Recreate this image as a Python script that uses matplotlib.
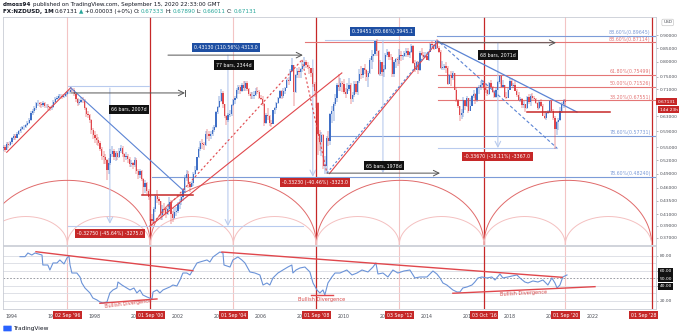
import numpy as np
import matplotlib
matplotlib.use("Agg")
import matplotlib.pyplot as plt
from matplotlib.ticker import NullLocator
from matplotlib.patches import FancyBboxPatch

# NZDUSD monthly bars, Aug 1993 .. Sep 2020 (open = previous close)
first_month = (1993, 8)
first_open = 0.548
closes = [
    0.550, 0.544, 0.558, 0.556, 0.562,
    0.572, 0.578, 0.574, 0.584, 0.590, 0.596, 0.600, 0.600, 0.606, 0.612, 0.620, 0.640,
    0.645, 0.652, 0.667, 0.668, 0.664, 0.662, 0.668, 0.658, 0.660, 0.656, 0.654, 0.656,
    0.672, 0.680, 0.684, 0.688, 0.690, 0.686, 0.690, 0.696, 0.700, 0.702, 0.708, 0.706,
    0.696, 0.680, 0.668, 0.672, 0.678, 0.676, 0.652, 0.636, 0.634, 0.620, 0.592, 0.580,
    0.572, 0.568, 0.560, 0.546, 0.530, 0.528, 0.520, 0.498, 0.514, 0.534, 0.542, 0.528,
    0.536, 0.528, 0.540, 0.548, 0.534, 0.528, 0.530, 0.522, 0.512, 0.514, 0.508, 0.520,
    0.496, 0.486, 0.496, 0.478, 0.462, 0.470, 0.454, 0.442, 0.402, 0.398, 0.420, 0.444,
    0.438, 0.434, 0.408, 0.420, 0.418, 0.410, 0.420, 0.432, 0.410, 0.404, 0.414, 0.416,
    0.428, 0.432, 0.442, 0.456, 0.480, 0.490, 0.468, 0.462, 0.470, 0.490, 0.498, 0.526,
    0.546, 0.560, 0.558, 0.556, 0.584, 0.582, 0.578, 0.584, 0.594, 0.602, 0.642, 0.656,
    0.674, 0.698, 0.664, 0.630, 0.620, 0.634, 0.636, 0.662, 0.676, 0.684, 0.708, 0.718,
    0.704, 0.724, 0.714, 0.730, 0.710, 0.696, 0.688, 0.690, 0.692, 0.704, 0.702, 0.684,
    0.680, 0.664, 0.612, 0.634, 0.630, 0.612, 0.610, 0.648, 0.652, 0.668, 0.684, 0.704,
    0.690, 0.704, 0.714, 0.740, 0.736, 0.770, 0.790, 0.700, 0.756, 0.768, 0.766, 0.776,
    0.784, 0.800, 0.790, 0.782, 0.778, 0.762, 0.726, 0.704, 0.668, 0.582, 0.562, 0.580,
    0.506, 0.506, 0.572, 0.566, 0.636, 0.644, 0.664, 0.684, 0.722, 0.718, 0.730, 0.726,
    0.700, 0.696, 0.710, 0.724, 0.680, 0.692, 0.726, 0.702, 0.734, 0.760, 0.756, 0.778,
    0.772, 0.750, 0.762, 0.806, 0.822, 0.828, 0.876, 0.838, 0.760, 0.800, 0.766, 0.776,
    0.826, 0.836, 0.818, 0.816, 0.758, 0.800, 0.810, 0.806, 0.826, 0.822, 0.822, 0.830,
    0.838, 0.826, 0.834, 0.858, 0.796, 0.772, 0.800, 0.772, 0.830, 0.826, 0.816, 0.822,
    0.806, 0.836, 0.866, 0.860, 0.848, 0.876, 0.850, 0.836, 0.780, 0.780, 0.786, 0.780,
    0.726, 0.754, 0.746, 0.762, 0.708, 0.676, 0.660, 0.634, 0.640, 0.676, 0.658, 0.684,
    0.646, 0.660, 0.690, 0.694, 0.676, 0.714, 0.718, 0.724, 0.728, 0.714, 0.708, 0.694,
    0.728, 0.718, 0.700, 0.686, 0.708, 0.732, 0.752, 0.718, 0.722, 0.686, 0.684, 0.708,
    0.736, 0.720, 0.724, 0.704, 0.692, 0.678, 0.680, 0.662, 0.664, 0.652, 0.686, 0.670,
    0.690, 0.682, 0.680, 0.668, 0.652, 0.672, 0.658, 0.630, 0.626, 0.640, 0.642, 0.674,
    0.646, 0.624, 0.596, 0.614, 0.620, 0.644, 0.664, 0.6733, 0.67131,
]
highs = [
    0.556, 0.556, 0.562, 0.562, 0.566,
    0.576, 0.582, 0.584, 0.588, 0.594, 0.600, 0.605, 0.606, 0.610, 0.616, 0.624, 0.645,
    0.650, 0.658, 0.672, 0.676, 0.672, 0.670, 0.674, 0.670, 0.666, 0.664, 0.660, 0.662,
    0.678, 0.686, 0.690, 0.694, 0.696, 0.694, 0.694, 0.700, 0.704, 0.708, 0.716, 0.714,
    0.712, 0.698, 0.684, 0.680, 0.686, 0.686, 0.680, 0.656, 0.644, 0.636, 0.622, 0.598,
    0.590, 0.582, 0.576, 0.566, 0.550, 0.540, 0.534, 0.522, 0.524, 0.546, 0.552, 0.546,
    0.542, 0.540, 0.548, 0.556, 0.552, 0.536, 0.538, 0.534, 0.526, 0.520, 0.516, 0.526,
    0.524, 0.500, 0.500, 0.498, 0.480, 0.476, 0.472, 0.458, 0.446, 0.410, 0.424, 0.448,
    0.456, 0.442, 0.434, 0.426, 0.430, 0.424, 0.428, 0.442, 0.436, 0.416, 0.422, 0.424,
    0.432, 0.438, 0.448, 0.460, 0.486, 0.498, 0.496, 0.470, 0.474, 0.494, 0.506, 0.528,
    0.550, 0.566, 0.570, 0.564, 0.590, 0.596, 0.590, 0.590, 0.600, 0.606, 0.646, 0.660,
    0.688, 0.710, 0.704, 0.664, 0.634, 0.640, 0.648, 0.666, 0.680, 0.690, 0.714, 0.724,
    0.722, 0.728, 0.736, 0.736, 0.734, 0.712, 0.700, 0.700, 0.704, 0.712, 0.718, 0.706,
    0.692, 0.688, 0.668, 0.640, 0.652, 0.634, 0.620, 0.648, 0.656, 0.670, 0.686, 0.708,
    0.706, 0.712, 0.716, 0.746, 0.750, 0.774, 0.814, 0.790, 0.760, 0.778, 0.782, 0.780,
    0.800, 0.818, 0.808, 0.800, 0.790, 0.780, 0.778, 0.732, 0.706, 0.672, 0.592, 0.588,
    0.584, 0.530, 0.578, 0.590, 0.640, 0.660, 0.670, 0.696, 0.728, 0.758, 0.744, 0.736,
    0.742, 0.712, 0.728, 0.744, 0.728, 0.702, 0.736, 0.734, 0.736, 0.776, 0.786, 0.780,
    0.792, 0.776, 0.768, 0.812, 0.842, 0.828, 0.878, 0.884, 0.842, 0.808, 0.800, 0.790,
    0.830, 0.848, 0.840, 0.828, 0.816, 0.808, 0.814, 0.816, 0.846, 0.838, 0.826, 0.838,
    0.852, 0.850, 0.840, 0.866, 0.860, 0.808, 0.804, 0.804, 0.838, 0.850, 0.836, 0.834,
    0.828, 0.840, 0.868, 0.876, 0.866, 0.878, 0.884, 0.858, 0.842, 0.802, 0.794, 0.798,
    0.786, 0.760, 0.768, 0.770, 0.762, 0.712, 0.680, 0.660, 0.650, 0.686, 0.676, 0.690,
    0.684, 0.682, 0.692, 0.706, 0.698, 0.716, 0.722, 0.736, 0.736, 0.738, 0.728, 0.710,
    0.732, 0.738, 0.720, 0.706, 0.712, 0.734, 0.755, 0.752, 0.740, 0.724, 0.700, 0.712,
    0.744, 0.744, 0.730, 0.740, 0.710, 0.700, 0.685, 0.683, 0.673, 0.664, 0.690, 0.694,
    0.694, 0.698, 0.690, 0.684, 0.670, 0.676, 0.680, 0.664, 0.646, 0.646, 0.648, 0.676,
    0.676, 0.650, 0.631, 0.616, 0.624, 0.656, 0.672, 0.680, 0.6789,
]
lows = [
    0.540, 0.538, 0.543, 0.549, 0.552,
    0.558, 0.568, 0.568, 0.572, 0.580, 0.586, 0.592, 0.594, 0.598, 0.603, 0.608, 0.618,
    0.634, 0.640, 0.648, 0.660, 0.656, 0.654, 0.656, 0.652, 0.652, 0.648, 0.646, 0.648,
    0.652, 0.668, 0.676, 0.680, 0.682, 0.680, 0.682, 0.686, 0.692, 0.696, 0.700, 0.700,
    0.688, 0.672, 0.660, 0.662, 0.668, 0.668, 0.648, 0.628, 0.626, 0.612, 0.584, 0.570,
    0.560, 0.556, 0.554, 0.540, 0.520, 0.510, 0.512, 0.476, 0.490, 0.508, 0.526, 0.520,
    0.518, 0.520, 0.524, 0.536, 0.526, 0.516, 0.520, 0.514, 0.504, 0.504, 0.500, 0.504,
    0.490, 0.478, 0.480, 0.474, 0.446, 0.450, 0.448, 0.436, 0.398, 0.390, 0.394, 0.414,
    0.430, 0.426, 0.400, 0.400, 0.408, 0.404, 0.408, 0.416, 0.392, 0.396, 0.402, 0.406,
    0.412, 0.420, 0.426, 0.434, 0.450, 0.474, 0.460, 0.452, 0.462, 0.464, 0.486, 0.496,
    0.524, 0.540, 0.546, 0.544, 0.554, 0.570, 0.566, 0.570, 0.578, 0.588, 0.598, 0.636,
    0.654, 0.670, 0.654, 0.626, 0.606, 0.614, 0.628, 0.630, 0.658, 0.666, 0.680, 0.696,
    0.696, 0.700, 0.704, 0.704, 0.704, 0.690, 0.680, 0.680, 0.680, 0.688, 0.694, 0.680,
    0.676, 0.658, 0.604, 0.608, 0.620, 0.604, 0.600, 0.608, 0.636, 0.648, 0.664, 0.680,
    0.680, 0.682, 0.696, 0.712, 0.722, 0.736, 0.766, 0.660, 0.698, 0.744, 0.746, 0.746,
    0.766, 0.778, 0.778, 0.774, 0.760, 0.750, 0.718, 0.686, 0.652, 0.532, 0.541, 0.530,
    0.500, 0.490, 0.494, 0.554, 0.556, 0.612, 0.618, 0.660, 0.670, 0.704, 0.704, 0.700,
    0.694, 0.682, 0.696, 0.704, 0.666, 0.670, 0.686, 0.696, 0.692, 0.728, 0.742, 0.744,
    0.758, 0.734, 0.718, 0.760, 0.774, 0.798, 0.822, 0.822, 0.756, 0.752, 0.752, 0.750,
    0.772, 0.818, 0.806, 0.806, 0.750, 0.750, 0.778, 0.786, 0.794, 0.804, 0.806, 0.816,
    0.818, 0.818, 0.814, 0.832, 0.794, 0.764, 0.774, 0.760, 0.770, 0.820, 0.812, 0.812,
    0.806, 0.804, 0.834, 0.852, 0.844, 0.846, 0.846, 0.832, 0.776, 0.772, 0.772, 0.762,
    0.722, 0.728, 0.720, 0.740, 0.706, 0.672, 0.654, 0.618, 0.622, 0.628, 0.647, 0.656,
    0.640, 0.646, 0.660, 0.684, 0.664, 0.672, 0.696, 0.708, 0.718, 0.708, 0.699, 0.688,
    0.692, 0.712, 0.698, 0.682, 0.682, 0.708, 0.726, 0.716, 0.718, 0.684, 0.680, 0.684,
    0.706, 0.720, 0.712, 0.704, 0.686, 0.674, 0.672, 0.654, 0.653, 0.642, 0.650, 0.664,
    0.660, 0.676, 0.676, 0.666, 0.648, 0.650, 0.656, 0.630, 0.623, 0.620, 0.636, 0.640,
    0.646, 0.620, 0.547, 0.580, 0.594, 0.616, 0.638, 0.654, 0.6601,
]

# monthly RSI line (time in years, value)
rsi_t = [1994.39, 1994.63, 1994.77, 1994.96, 1995.11, 1995.45, 1995.49, 1995.73, 1995.83, 1995.98,
         1996.17, 1996.31, 1996.51, 1996.65, 1996.75, 1996.80, 1996.89, 1997.13, 1997.28, 1997.37,
         1997.52, 1997.76, 1997.90, 1998.10, 1998.24, 1998.39, 1998.58, 1998.72, 1998.87, 1999.06,
         1999.11, 1999.30, 1999.54, 1999.69, 1999.88, 2000.02, 2000.17, 2000.31, 2000.51, 2000.75,
         2000.80, 2000.99, 2001.13, 2001.28, 2001.61, 2001.76, 2001.95, 2002.10, 2002.24, 2002.43,
         2002.58, 2002.72, 2002.92, 2003.06, 2003.40, 2003.54, 2003.69, 2004.02, 2004.17, 2004.22,
         2004.51, 2004.65, 2004.89, 2005.08, 2005.23, 2005.47, 2005.71, 2005.95, 2006.10, 2006.29,
         2006.43, 2006.58, 2006.82, 2007.06, 2007.30, 2007.49, 2007.54, 2007.69, 2007.88, 2008.12,
         2008.36, 2008.51, 2008.70, 2008.84, 2008.99, 2009.08, 2009.23, 2009.42, 2009.57, 2009.81,
         2010.14, 2010.39, 2010.63, 2010.87, 2011.16, 2011.40, 2011.54, 2011.64, 2011.88, 2012.12,
         2012.36, 2012.60, 2012.89, 2013.18, 2013.42, 2013.66, 2014.00, 2014.29, 2014.48, 2014.63,
         2014.77, 2014.96, 2015.25, 2015.45, 2015.59, 2015.73, 2015.93, 2016.17, 2016.31, 2016.46,
         2016.65, 2016.89, 2017.13, 2017.28, 2017.52, 2017.66, 2017.90, 2018.10, 2018.34, 2018.48,
         2018.72, 2018.87, 2019.11, 2019.35, 2019.59, 2019.83, 2020.02, 2020.17, 2020.27, 2020.41,
         2020.55, 2020.75]
rsi_vals = [78.7, 78.7, 83.6, 80.9, 83.6, 80.9, 67.6, 67.6, 60.9, 70.3,
            70.3, 74.3, 69.0, 76.9, 79.6, 67.6, 56.9, 56.9, 51.6, 43.6,
            36.9, 30.3, 23.6, 20.9, 18.3, 16.9, 18.3, 30.3, 34.3, 36.9,
            44.9, 40.9, 36.9, 34.3, 36.9, 30.3, 34.3, 27.6, 24.9, 22.3,
            31.6, 34.3, 30.3, 34.3, 38.3, 40.9, 39.6, 47.6, 56.9, 56.9,
            54.3, 60.9, 70.3, 71.6, 74.3, 71.6, 78.3, 84.9, 83.6, 67.6,
            64.9, 74.3, 78.3, 74.3, 70.3, 58.3, 56.9, 54.3, 40.9, 43.6,
            40.9, 50.3, 56.9, 60.9, 64.9, 67.6, 56.9, 60.9, 63.6, 64.9,
            58.3, 43.6, 34.3, 30.3, 34.3, 27.6, 43.6, 51.6, 56.9, 56.9,
            60.9, 54.3, 56.9, 60.9, 58.3, 64.9, 70.3, 55.6, 56.9, 51.6,
            60.9, 56.9, 59.6, 60.9, 50.3, 51.6, 51.6, 59.6, 55.6, 50.3,
            43.6, 40.9, 34.3, 31.6, 31.6, 36.9, 38.3, 40.9, 44.9, 50.3,
            51.6, 50.3, 51.6, 47.6, 55.6, 50.3, 51.6, 52.9, 54.3, 50.3,
            44.9, 43.6, 46.3, 44.9, 47.6, 40.9, 50.3, 43.6, 36.9, 40.9,
            51.6, 54.3]

price_ticks = [0.90, 0.85, 0.80, 0.75, 0.71, 0.63, 0.59, 0.55, 0.52, 0.49, 0.46, 0.435, 0.41, 0.39, 0.37]
rsi_ticks = [20, 40, 50, 60, 80]
year_ticks = list(range(1994, 2023, 2))

# 8-year cycle lows and the 4-year half cycles
cycle_lows = [2000.67, 2008.67, 2016.75, 2024.83]
half_cycles = [1996.67, 2004.67, 2012.67, 2020.67]
cycle_tags = ["02 Sep '96", "01 Sep '00", "01 Sep '04", "01 Sep '08",
              "03 Sep '12", "03 Oct '16", "01 Sep '20", "01 Sep '28"]
cycle_tag_x = [1996.67, 2000.67, 2004.67, 2008.67, 2012.67, 2016.75, 2020.67, 2024.43]

# fibonacci levels: (label, level, start year, colour key)
fib_names = ["88.60%", "88.60%", "61.80%", "50.00%", "38.20%", "78.60%", "78.60%"]
fib_levels = [0.89645, 0.87114, 0.75499, 0.71526, 0.67551, 0.57731, 0.48240]
fib_start = [2014.48, 2008.12, 2014.53, 2014.53, 2014.53, 2009.33, 2000.75]
fib_kind = ["b", "r", "r", "r", "r", "b", "b"]

BLUE = "#3f6fc6"
RED = "#e0474c"
DKRED = "#c62828"
PINK = "#f3c4c4"
LBLUE = "#b9cbee"
FIBB = "#7d9cd8"
FIBR = "#e47676"
GRID = "#d9dce3"
TXT = "#4a4d55"

W, H = 680, 334
fig = plt.figure(figsize=(W / 100, H / 100), dpi=100)
fig.patch.set_facecolor("white")


def rect(l, t, r, b):
    return [l / W, 1 - b / H, (r - l) / W, (b - t) / H]


ax = fig.add_axes(rect(3, 17, 656, 244.5))
axr = fig.add_axes(rect(3, 245.5, 656, 309), sharex=ax)

for a in (ax, axr):
    for s in a.spines.values():
        s.set_color("#c9ccd4")
        s.set_linewidth(0.6)

ax.set_yscale("log")
ax.set_xlim(1993.57, 2025.04)
ax.set_ylim(0.359, 0.974)
axr.set_ylim(8.9, 93.6)

# ---- candles
n = len(closes)
t = first_month[0] + (first_month[1] - 1) / 12 + np.arange(n) / 12
c = np.array(closes)
o = np.r_[first_open, c[:-1]]
hi = np.maximum(np.array(highs), np.maximum(o, c))
lo = np.minimum(np.array(lows), np.minimum(o, c))
col = np.where(c >= o, BLUE, RED)
ax.vlines(t, lo, hi, colors=col, lw=1.3, alpha=0.3, zorder=3)
ax.bar(t, np.maximum(np.abs(c - o), 0.002), bottom=np.minimum(o, c),
       width=0.06, color=col, lw=0, zorder=4)

# ---- cycle verticals and arcs
for a in (ax, axr):
    for x in half_cycles:
        a.axvline(x, color=PINK, lw=0.8, zorder=1)
    for x in cycle_lows:
        a.axvline(x, color=DKRED, lw=0.9, zorder=2)

tr = ax.get_xaxis_transform()
th = np.linspace(0, np.pi, 200)
big = [1992.67] + cycle_lows
for a0, a1 in zip(big[:-1], big[1:]):
    ax.plot((a0 + a1) / 2 + (a1 - a0) / 2 * np.cos(th), 0.282 * np.sin(th),
            transform=tr, color="#e06a6a", lw=0.7, zorder=2)
small = sorted([1992.67] + cycle_lows + half_cycles)
for a0, a1 in zip(small[:-1], small[1:]):
    ax.plot((a0 + a1) / 2 + (a1 - a0) / 2 * np.cos(th), 0.123 * np.sin(th),
            transform=tr, color="#f4c0c0", lw=0.7, zorder=2)

# ---- fib levels
for name, lev, x0, k in zip(fib_names, fib_levels, fib_start, fib_kind):
    cc = FIBB if k == "b" else FIBR
    ax.plot([x0, 2025.04], [lev, lev], color=cc, lw=0.8, zorder=2)
    ax.text(2024.78, lev * 1.004, f"{name}({lev:.5f})", color=cc, fontsize=3.4,
            ha="right", va="bottom", zorder=5)

# ---- trend lines
ax.plot([1993.75, 1996.83], [0.538, 0.714], color=RED, lw=0.8, zorder=5)
ax.plot([1996.83, 2002.34], [0.714, 0.452], color="#5b84d4", lw=0.8, zorder=5)
ax.plot([2000.65, 2009.9], [0.389, 0.762], color=RED, lw=0.8, zorder=5)
ax.plot([2000.65, 2007.98], [0.389, 0.807], color=RED, lw=0.8, ls=(0, (2, 2)), zorder=5)
ax.plot([2007.98, 2009.18], [0.807, 0.491], color=RED, lw=0.8, ls=(0, (2, 2)), zorder=5)
ax.plot([2009.3, 2014.53], [0.490, 0.876], color=RED, lw=0.8, zorder=5)
ax.plot([2009.18, 2014.45], [0.491, 0.872], color="#5b84d4", lw=0.8, ls=(0, (2, 2)), zorder=5)
ax.plot([2014.53, 2021.23], [0.876, 0.642], color="#5b84d4", lw=0.9, zorder=5)
ax.plot([2014.63, 2020.27], [0.870, 0.548], color="#5b84d4", lw=0.8, ls=(0, (3, 2)), zorder=5)
ax.plot([2018.82, 2022.82], [0.642, 0.642], color=DKRED, lw=1.1, zorder=5)
ax.plot([2000.27, 2002.72], [0.447, 0.447], color=DKRED, lw=1.1, zorder=5)

# ---- measuring tools (light price ranges)
ax.plot([1996.70, 2000.60], [0.720, 0.720], color=LBLUE, lw=0.8, zorder=2)
ax.plot([1996.70, 2008.02], [0.389, 0.389], color=LBLUE, lw=0.8, zorder=2)
ax.plot([2009.08, 2014.48], [0.880, 0.880], color=LBLUE, lw=0.8, zorder=2)
ax.plot([2014.53, 2020.27], [0.548, 0.548], color=LBLUE, lw=0.8, zorder=2)
for xv, ya, yb in [(1998.72, 0.713, 0.393), (2004.41, 0.824, 0.389), (2011.88, 0.880, 0.491),
                   (2008.50, 0.807, 0.483), (2017.42, 0.870, 0.548)]:
    ax.annotate("", xy=(xv, yb), xytext=(xv, ya), zorder=2,
                arrowprops=dict(arrowstyle="->", color=LBLUE, lw=0.8, shrinkA=0, shrinkB=0))

# date ranges
for x0, x1, yv in [(1996.83, 2002.34, 0.698), (2001.52, 2008.02, 0.824),
                   (2009.18, 2014.63, 0.491), (2014.53, 2020.22, 0.870)]:
    ax.annotate("", xy=(x1, yv), xytext=(x0, yv), zorder=5,
                arrowprops=dict(arrowstyle="->", color="#555", lw=0.7, shrinkA=0, shrinkB=0))
ax.plot([2002.34, 2002.34], [0.688, 0.708], color="#555", lw=0.7, zorder=5)


def tag(x, y, s, fc):
    ax.text(x, y, s, fontsize=3.4, color="white", ha="center", va="center", zorder=7,
            bbox=dict(boxstyle="square,pad=0.45", fc=fc, ec="none"))


tag(1999.64, 0.650, "66 bars, 2007d", "#111111")
tag(2004.70, 0.789, "77 bars, 2344d", "#111111")
tag(2011.91, 0.507, "65 bars, 1978d", "#111111")
tag(2017.42, 0.824, "68 bars, 2071d", "#111111")
tag(1998.72, 0.377, "-0.32750 (-45.64%) -3275.0", DKRED)
tag(2008.60, 0.471, "-0.33230 (-40.46%) -3323.0", DKRED)
tag(2017.40, 0.528, "-0.33670 (-38.11%) -3367.0", DKRED)
tag(2004.31, 0.852, "0.43130 (110.56%) 4313.0", "#1e4fa3")
tag(2011.86, 0.914, "0.39451 (80.66%) 3945.1", "#1e4fa3")

# ---- price axis
ax.yaxis.tick_right()
ax.yaxis.set_minor_locator(NullLocator())
ax.set_yticks(price_ticks)
ax.set_yticklabels([f"{v:.5f}" for v in price_ticks])
ax.tick_params(axis="y", length=1.5, width=0.5, color="#999", labelcolor=TXT, labelsize=3.2, pad=1)
ax.tick_params(axis="x", bottom=False, labelbottom=False)

ytr = ax.get_yaxis_transform()
ax.text(1.003, 0.67131, "0.67131", transform=ytr, fontsize=3.2, color="white", ha="left",
        va="center", bbox=dict(boxstyle="square,pad=0.35", fc=DKRED, ec="none"), clip_on=False)
ax.text(1.006, 0.649, "14d 23h", transform=ytr, fontsize=3.2, color="white", ha="left",
        va="center", bbox=dict(boxstyle="square,pad=0.35", fc=DKRED, ec="none"), clip_on=False)
ax.text(1.011, 0.976, "USD", transform=ax.transAxes, fontsize=3.1, color=TXT, ha="left",
        va="center", bbox=dict(boxstyle="round,pad=0.3", fc="white", ec="#bbb", lw=0.4),
        clip_on=False)

# ---- RSI pane
for lv in [20, 30, 40, 60, 70, 80]:
    axr.axhline(lv, color=GRID, lw=0.6, zorder=1)
axr.axhline(50, color="#8a8d95", lw=0.6, ls=(0, (2, 2)), zorder=1)
axr.plot(rsi_t, rsi_vals, color="#6b93d8", lw=0.8, zorder=4)

axr.plot([1995.16, 2002.72], [85.3, 60.0], color=RED, lw=1.0, zorder=5)
axr.plot([2004.12, 2020.51], [84.9, 51.2], color=RED, lw=1.0, zorder=5)
axr.plot([1998.24, 2000.99], [16.5, 22.3], color=RED, lw=1.0, zorder=5)
axr.plot([2008.41, 2009.47], [27.6, 27.6], color=RED, lw=1.0, zorder=5)
axr.plot([2015.25, 2022.10], [29.9, 38.7], color=RED, lw=1.0, zorder=5)
for x, y, rot in [(1999.59, 15.6, 7), (2008.94, 21.6, 0), (2018.67, 29.6, 3)]:
    axr.text(x, y, "Bullish Divergence", color="#d84848", fontsize=3.6, ha="center",
             va="center", rotation=rot, rotation_mode="anchor", zorder=6)

axr.yaxis.tick_right()
axr.set_yticks(rsi_ticks)
axr.set_yticklabels([f"{v:.2f}" for v in rsi_ticks])
axr.tick_params(axis="y", length=1.5, width=0.5, color="#999", labelcolor=TXT, labelsize=3.2, pad=1)
for lbl in axr.get_yticklabels():
    if lbl.get_text() in ("40.00", "50.00", "60.00"):
        lbl.set_color("white")
        lbl.set_bbox(dict(boxstyle="square,pad=0.3", fc="#111111", ec="none"))

axr.set_xticks(year_ticks)
axr.set_xticklabels([str(y) for y in year_ticks])
axr.tick_params(axis="x", length=0, labelsize=3.4, labelcolor=TXT, pad=3.5)
xtr = axr.get_xaxis_transform()
for x, s in zip(cycle_tag_x, cycle_tags):
    axr.text(x, -0.095, s, transform=xtr, fontsize=3.4, color="white", ha="center", va="center",
             bbox=dict(boxstyle="square,pad=0.4", fc=DKRED, ec="none"), clip_on=False, zorder=8)

# ---- header lines
rend = fig.canvas.get_renderer()


def header(y, parts, fs=4.1):
    x = 3
    for s, color, weight in parts:
        tt = fig.text(x / W, 1 - y / H, s, fontsize=fs, color=color, fontweight=weight,
                      ha="left", va="center")
        x = tt.get_window_extent(rend).x1 + 1.2


TEAL = "#26a69a"
DK = "#131722"
header(4.5, [("dmoss94", DK, "bold"),
             ("published on TradingView.com, September 15, 2020 22:33:00 GMT", DK, "normal")])
header(11.5, [("FX:NZDUSD, 1M", DK, "bold"), ("0.67131", DK, "normal"), ("\u25b2", TEAL, "normal"),
              ("+0.00003 (+0%)", DK, "normal"), ("O:", DK, "normal"), ("0.67333", TEAL, "normal"),
              ("H:", DK, "normal"), ("0.67890", TEAL, "normal"), ("L:", DK, "normal"),
              ("0.66011", TEAL, "normal"), ("C:", DK, "normal"), ("0.67131", TEAL, "normal")])

# footer logo
fig.patches.append(FancyBboxPatch((4 / W, 1 - 331 / H), 7 / W, 5 / H, boxstyle="round,pad=0.001",
                                  transform=fig.transFigure, fc="#2962ff", ec="none"))
fig.text(13 / W, 1 - 328.5 / H, "TradingView", fontsize=4.2, color=DK, ha="left", va="center")

fig.savefig("out.png", dpi=100, facecolor="white")
